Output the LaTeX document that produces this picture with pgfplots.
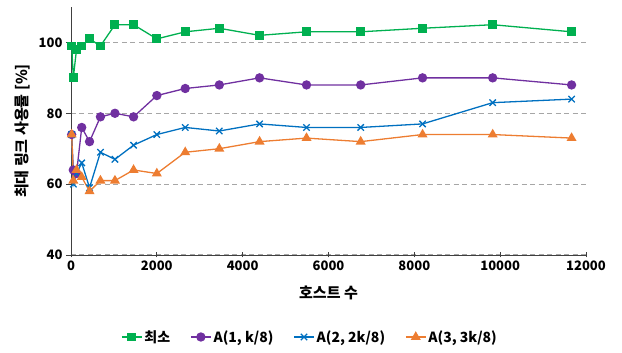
\documentclass[border=0pt]{standalone}
\usepackage{pgfplots}
\pgfplotsset{compat=1.18}
\usepackage{fontspec}
\setmainfont{Noto Sans CJK KR}
\definecolor{cgreen}{HTML}{00B050}
\definecolor{cpurple}{HTML}{7030A0}
\definecolor{cblue}{HTML}{0070C0}
\definecolor{corange}{HTML}{ED7D31}
\definecolor{cgrid}{HTML}{A6A6A6}
\begin{document}
\begin{tikzpicture}
\path[use as bounding box] (-71pt,-98pt) rectangle (551pt,255pt);
\begin{axis}[
  at={(0pt,0pt)}, anchor=origin,
  scale only axis, width=515pt, height=248pt,
  xmin=0, xmax=12000, ymin=40, ymax=110,
  xtick={0,2000,...,12000}, ytick={40,60,80,100},
  scaled x ticks=false,
  /pgf/number format/.cd, 1000 sep={}, assume math mode=true, /pgfplots/.cd,
  axis x line*=bottom, axis y line*=left,
  axis line style={draw=black!75, line width=0.8pt, -},
  tick style={draw=black!75, line width=0.8pt},
  xtick align=center, ytick align=outside,
  major tick length=5pt,
  ymajorgrids=true,
  grid style={cgrid, dashed, dash pattern=on 5pt off 3.5pt, line width=1pt},
  tick label style={font=\fontsize{13}{15}\selectfont\bfseries},
  label style={font=\fontsize{15}{17}\selectfont\bfseries},
  xlabel={호스트 수},
  ylabel={최대 링크 사용률 [\%]},
  xlabel style={at={(axis description cs:0.5,0)}, anchor=north, yshift=-27pt},
  ylabel style={at={(axis description cs:0,0.5)}, anchor=south, yshift=37pt},
  legend style={at={(239pt,-82pt)}, anchor=center, draw=none, fill=none,
    legend columns=4, font=\fontsize{14}{16}\selectfont\bfseries,
    /tikz/every even column/.append style={column sep=18pt}},
  legend image code/.code={\draw[#1] (0pt,0pt) -- (20pt,0pt); \draw[#1,only marks] plot coordinates {(10pt,0pt)};},
  every axis plot/.append style={line width=1.3pt},
  clip=false,
]
\addplot[cgreen, mark=square*, mark size=3.8pt, mark options={solid}] coordinates {
(16,99) (54,90) (128,98) (250,99) (432,101) (686,99) (1024,105) (1458,105) (2000,101) (2662,103) (3456,104) (4394,102) (5488,103) (6750,103) (8192,104) (9826,105) (11664,103)};
\addlegendentry{최소}
\addplot[cpurple, mark=*, mark size=4pt] coordinates {
(16,74) (54,64) (128,63) (250,76) (432,72) (686,79) (1024,80) (1458,79) (2000,85) (2662,87) (3456,88) (4394,90) (5488,88) (6750,88) (8192,90) (9826,90) (11664,88)};
\addlegendentry{A(1, k/8)}
\addplot[cblue, mark=x, mark size=4.5pt] coordinates {
(16,74) (54,60) (128,63) (250,66) (432,59) (686,69) (1024,67) (1458,71) (2000,74) (2662,76) (3456,75) (4394,77) (5488,76) (6750,76) (8192,77) (9826,83) (11664,84)};
\addlegendentry{A(2, 2k/8)}
\addplot[corange, mark=triangle*, mark size=4.5pt] coordinates {
(16,74) (54,61) (128,64) (250,62) (432,58) (686,61) (1024,61) (1458,64) (2000,63) (2662,69) (3456,70) (4394,72) (5488,73) (6750,72) (8192,74) (9826,74) (11664,73)};
\addlegendentry{A(3, 3k/8)}
\end{axis}
\end{tikzpicture}
\end{document}
